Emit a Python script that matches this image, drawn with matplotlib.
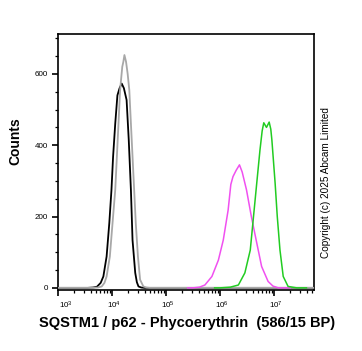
import numpy as np
import matplotlib
matplotlib.use("Agg")
import matplotlib.pyplot as plt
from matplotlib.ticker import LogLocator, FixedLocator, MultipleLocator, NullFormatter
import matplotlib.transforms as mtrans

plt.rcParams['font.family'] = ['Liberation Sans', 'DejaVu Sans']
plt.rcParams['mathtext.fontset'] = 'custom'
plt.rcParams['mathtext.rm'] = 'Liberation Sans'
plt.rcParams['mathtext.it'] = 'Liberation Sans'

# histogram traces: log10(intensity) -> counts
black_x = [3.0, 3.55, 3.65, 3.72, 3.79, 3.84, 3.90, 3.95, 3.99, 4.02, 4.06, 4.10, 4.14, 4.18, 4.22,
           4.27, 4.31, 4.35, 4.38, 4.43, 4.46, 4.49, 4.54, 4.6, 7.74]
black_y = [0, 0, 1, 3, 14, 32, 88, 182, 275, 368, 461, 540, 560, 573, 560,
           527, 415, 275, 134, 42, 16, 4, 1, 0, 0]

gray_x = [3.0, 3.65, 3.74, 3.81, 3.86, 3.90, 3.96, 4.01, 4.06, 4.09, 4.12, 4.15, 4.19, 4.21, 4.23,
          4.26, 4.29, 4.32, 4.35, 4.38, 4.41, 4.44, 4.48, 4.52, 4.58, 4.64, 4.7, 7.74]
gray_y = [0, 0, 1, 4, 14, 32, 88, 182, 275, 368, 461, 555, 620, 634, 653,
          634, 600, 555, 461, 368, 275, 182, 88, 23, 4, 1, 0, 0]

magenta_x = [5.4, 5.5, 5.62, 5.72, 5.85, 5.97, 6.06, 6.15, 6.2, 6.24, 6.3, 6.36, 6.41,
             6.49, 6.58, 6.68, 6.77, 6.89, 6.98, 7.08, 7.3]
magenta_y = [0, 0, 2, 8, 32, 78, 134, 218, 290, 312, 330, 345, 325,
             275, 200, 126, 60, 18, 5, 0, 0]

green_x = [5.9, 6.0, 6.19, 6.34, 6.46, 6.56, 6.62, 6.68, 6.74, 6.78, 6.81, 6.86, 6.91,
           6.94, 6.96, 7.02, 7.06, 7.11, 7.17, 7.26, 7.42, 7.6]
green_y = [0, 0, 2, 8, 42, 106, 200, 294, 387, 440, 463, 450, 465,
           445, 415, 294, 200, 106, 32, 4, 0, 0]

xlabel = "SQSTM1 / p62 - Phycoerythrin  (586/15 BP)"
ylabel = "Counts"
copyright_text = "Copyright (c) 2025 Abcam Limited"

W, H = 362, 351
fig = plt.figure(figsize=(W / 100, H / 100), dpi=100)
ax = fig.add_axes([58 / W, 61 / H, 256 / W, 256 / H])

ax.plot(10 ** np.array(black_x), black_y, color='black', lw=1.3, zorder=2)
ax.plot(10 ** np.array(gray_x), gray_y, color='#a8a8a8', lw=1.3, zorder=3)
ax.plot(10 ** np.array(magenta_x), magenta_y, color='#f050f0', lw=1.1, zorder=4)
ax.plot(10 ** np.array(green_x), green_y, color='#22cc22', lw=1.1, zorder=5)

ax.set_xscale('log')
ax.set_xlim(1e3, 10 ** 7.74)
ax.set_ylim(-6, 712)

ax.xaxis.set_major_locator(FixedLocator([1e3, 1e4, 1e5, 1e6, 1e7]))
ax.xaxis.set_minor_locator(LogLocator(base=10, subs=np.arange(2, 10), numticks=20))
ax.xaxis.set_minor_formatter(NullFormatter())
ax.set_xticklabels([r'$10^{3}$', r'$10^{4}$', r'$10^{5}$', r'$10^{6}$', r'$10^{7}$'])

ax.yaxis.set_major_locator(FixedLocator([0, 200, 400, 600]))
ax.yaxis.set_minor_locator(MultipleLocator(50))
ax.set_yticklabels(['0', '200', '400', '600'])

ax.tick_params(axis='both', which='major', length=4.5, width=1.2, labelsize=5.8, pad=2.5)
ax.tick_params(axis='both', which='minor', length=2.5, width=0.9)
for s in ax.spines.values():
    s.set_linewidth(1.2)

# shift x tick labels a little to the right, the first one more
for i, lab in enumerate(ax.get_xticklabels()):
    dx = 8 if i == 0 else 2
    lab.set_transform(lab.get_transform() + mtrans.ScaledTranslation(dx / 100, 0, fig.dpi_scale_trans))

fig.text(15 / W, 1 - 141 / H, ylabel, rotation=90, ha='center', va='center',
         fontsize=10, fontweight='bold')
fig.text(187 / W, 1 - 323 / H, xlabel, ha='center', va='center',
         fontsize=10.5, fontweight='bold')
fig.text(326 / W, 1 - 183 / H, copyright_text, rotation=90, ha='center', va='center',
         fontsize=7.2)

fig.savefig('out.png', dpi=100)
